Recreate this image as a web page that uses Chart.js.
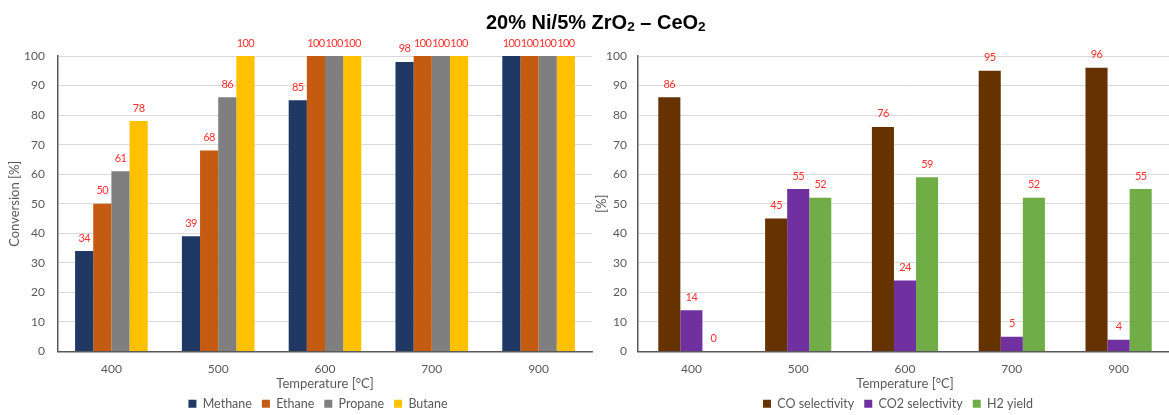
<!DOCTYPE html>
<html>
<head>
<meta charset="utf-8">
<script src="https://cdn.jsdelivr.net/npm/chart.js@4.4.1/dist/chart.umd.min.js"></script>
<style>
  body { margin: 0; width: 1169px; height: 415px; overflow: hidden; background: #fff; position: relative; }
  .box { position: absolute; top: 0; width: 600px; height: 415px; }
  #title { position: absolute; left: 486px; top: 11px; font: bold 20px "Liberation Sans", Arial, sans-serif; color: #000; white-space: nowrap; }
  #title sub { font-size: 0.68em; vertical-align: -0.15em; }
</style>
</head>
<body>
<div class="box" style="left:0"><canvas id="convChart" width="600" height="415"></canvas></div>
<div class="box" style="left:580px"><canvas id="selChart" width="600" height="415"></canvas></div>
<div id="title">20% Ni/5% ZrO<sub>2</sub> – CeO<sub>2</sub></div>
<script>
// data
var temps = ['400', '500', '600', '700', '900'];
var yTicks = [0, 10, 20, 30, 40, 50, 60, 70, 80, 90, 100];

var methane = [34, 39, 85, 98, 100];
var ethane = [50, 68, 100, 100, 100];
var propane = [61, 86, 100, 100, 100];
var butane = [78, 100, 100, 100, 100];

var coSel = [86, 45, 76, 95, 96];
var co2Sel = [14, 55, 24, 5, 4];
var h2Yield = [0, 52, 59, 52, 55];

var grey = '#595959';
var font = 'Lato, "Noto Sans", sans-serif';

/*
# red value labels above the bars
*/
var valueLabels = {
  id: 'valueLabels',
  afterDatasetsDraw: function(chart) {
    var ctx = chart.ctx;
    ctx.save();
    ctx.font = '11px ' + font;
    ctx.letterSpacing = '-0.6px';
    ctx.fillStyle = '#ff3030';
    ctx.textAlign = 'center';
    ctx.textBaseline = 'middle';
    chart.data.datasets.forEach(function(ds, i) {
      chart.getDatasetMeta(i).data.forEach(function(bar, j) {
        ctx.fillText(ds.data[j], bar.x, bar.y - 13);
      });
    });
    ctx.restore();
  }
};

/*
# legend sits centred under the plot area, not under the whole canvas
*/
var legendShift = {
  id: 'legendShift',
  afterLayout: function(chart) {
    var lg = chart.legend;
    var d = (chart.chartArea.left + chart.chartArea.right) / 2 - (lg.left + lg.right) / 2 - 7;
    lg.left += d;
    lg.right += d;
  }
};

function makeOptions(yTitle, padLeft, tickPad, catPct) {
  return {
    responsive: false,
    animation: false,
    layout: { padding: { top: 56, bottom: -5, left: padLeft, right: 8 } },
    datasets: { bar: { categoryPercentage: catPct, barPercentage: 1 } },
    plugins: {
      legend: {
        position: 'bottom',
        labels: { boxWidth: 8, boxHeight: 8, padding: 10, color: grey, font: { family: font, size: 12.5 } }
      },
      tooltip: { enabled: false }
    },
    scales: {
      x: {
        grid: { display: false, drawTicks: false },
        border: { color: grey, width: 1.5 },
        ticks: { color: grey, padding: 10, font: { family: font, size: 12 } },
        title: { display: true, text: 'Temperature [°C]', color: grey, padding: { top: 0, bottom: -4 }, font: { family: font, size: 13 } },
        afterFit: function(s) { s.height = 36; }
      },
      y: {
        min: 0,
        max: 100,
        afterBuildTicks: function(s) { s.ticks = yTicks.map(function(v) { return { value: v }; }); },
        grid: { color: '#d9d9d9', drawTicks: false },
        border: { color: grey, width: 1.5 },
        ticks: { color: grey, padding: tickPad, font: { family: font, size: 12 } },
        title: { display: true, text: yTitle, color: grey, padding: 0, font: { family: font, size: 13 } },
        afterFit: function(s) { s.width = 58 - padLeft; }
      }
    }
  };
}

var ctx1 = document.getElementById('convChart').getContext('2d');
var chart1 = new Chart(ctx1, {
  type: 'bar',
  data: {
    labels: temps,
    datasets: [
      { label: 'Methane', data: methane, backgroundColor: '#203864' },
      { label: 'Ethane', data: ethane, backgroundColor: '#c55a11' },
      { label: 'Propane', data: propane, backgroundColor: '#7f7f7f' },
      { label: 'Butane', data: butane, backgroundColor: '#ffc000' }
    ]
  },
  options: makeOptions('Conversion [%]', 7, 13, 0.68),
  plugins: [valueLabels, legendShift]
});

var ctx2 = document.getElementById('selChart').getContext('2d');
var chart2 = new Chart(ctx2, {
  type: 'bar',
  data: {
    labels: temps,
    datasets: [
      { label: 'CO selectivity', data: coSel, backgroundColor: '#663300' },
      { label: 'CO2 selectivity', data: co2Sel, backgroundColor: '#7030a0' },
      { label: 'H2 yield', data: h2Yield, backgroundColor: '#70ad47' }
    ]
  },
  options: makeOptions('[%]', 14, 11, 0.62),
  plugins: [valueLabels, legendShift]
});
</script>
</body>
</html>
